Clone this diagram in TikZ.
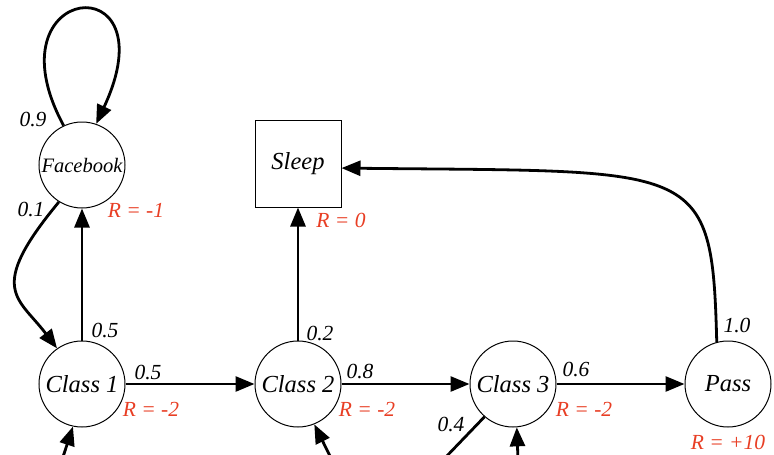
\documentclass[tikz,border=0pt]{standalone}
\usepackage{fontspec}
\setmainfont{Liberation Serif}
\usepackage{tikz}
\usetikzlibrary{arrows.meta}
\definecolor{mrpred}{RGB}{232,62,36}

\begin{document}
\begin{tikzpicture}[x=1pt, y=-1pt, >={Triangle[length=19pt,width=15pt]},
  font=\itshape\fontsize{21.5}{24}\selectfont,
  state/.style={circle, draw, line width=1pt, minimum size=86pt, inner sep=0pt,
    font=\itshape\fontsize{24.5}{28}\selectfont},
  trans/.style={->, line width=2.8pt},
  prob/.style={inner sep=0pt},
  rwd/.style={inner sep=0pt, text=mrpred}]
  \clip (0,0) rectangle (774,455);
  % states
  \node[state] (fb) at (82,165) {\fontsize{20.5}{24}\selectfont Facebook};
  \node[draw, line width=1pt, minimum width=86pt, minimum height=87pt, inner sep=0pt,
    font=\itshape\fontsize{24.5}{28}\selectfont] (sleep) at (298,163.5) {Sleep};
  \node[state] (cone) at (82,384) {Class 1};
  \node[state] (ctwo) at (298,384) {Class 2};
  \node[state] (cthree) at (513,384) {Class 3};
  \node[state] (pass) at (728,384) {Pass};
  % transitions
  \draw[trans] (fb.115) .. controls (-14,-18) and (172,-38) .. (fb.71);
  \draw[trans] (fb.238) .. controls (-14,290) and (18,297) .. (cone.125);
  \draw[trans] (cone.north) -- (fb.south);
  \draw[trans] (cone) -- (ctwo);
  \draw[trans] (ctwo.north) -- (sleep.south);
  \draw[trans] (ctwo) -- (cthree);
  \draw[trans] (cthree) -- (pass);
  \draw[trans] (pass.105) .. controls (712,160) and (700,172) .. (sleep.-6);
  % edges running out of the frame
  \coordinate (inone) at (62,460);
  \coordinate (intwo) at (332,460);
  \coordinate (outthree) at (443,460);
  \coordinate (inthree) at (518,460);
  \draw[trans] (inone) -- (cone.-102);
  \draw[trans] (intwo) -- (ctwo.-68);
  \draw[line width=2.8pt] (cthree.-131) -- (outthree);
  \draw[trans] (inthree) -- (cthree.-85);
  % probabilities
  \node[prob] (p09) at (33,120) {0.9};
  \node[prob] (p01) at (31,210) {0.1};
  \node[prob] (p05up) at (105,330) {0.5};
  \node[prob] (p05) at (148,372) {0.5};
  \node[prob] (p02) at (320,333) {0.2};
  \node[prob] (p08) at (360,371) {0.8};
  \node[prob] (p06) at (576,369) {0.6};
  \node[prob] (p04) at (451,424) {0.4};
  \node[prob] (p10) at (737,325) {1.0};
  % rewards
  \node[rwd] (rfb) at (136,210) {R = -1};
  \node[rwd] (rsleep) at (341,220) {R = 0};
  \node[rwd] (rone) at (151,409) {R = -2};
  \node[rwd] (rtwo) at (367,409) {R = -2};
  \node[rwd] (rthree) at (584,409) {R = -2};
  \node[rwd] (rpass) at (728,442) {R = +10};
\end{tikzpicture}
\end{document}
